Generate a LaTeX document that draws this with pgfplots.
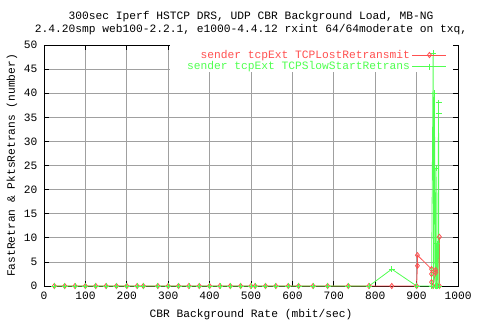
\documentclass[border=0pt]{standalone}
\usepackage{fontspec}
\setmainfont{Liberation Mono}
\usepackage{pgfplots}
\pgfplotsset{compat=1.18}
\definecolor{gred}{RGB}{255,80,80}
\definecolor{ggreen}{RGB}{80,255,80}
\definecolor{ggrid}{RGB}{160,160,160}
\newcommand{\gfont}{\fontsize{11.3}{13}\selectfont}
\begin{document}
\begin{tikzpicture}[x=1bp,y=1bp]
\path[use as bounding box] (-44,-34) rectangle (436,286);
\begin{axis}[
  at={(0,0)}, anchor=south west,
  scale only axis, width=414bp, height=241bp,
  xmin=0, xmax=1000, ymin=0, ymax=50,
  xtick={0,100,...,1000}, ytick={0,5,...,50},
  /pgf/number format/1000 sep={},
  /pgf/number format/assume math mode=true,
  grid=major,
  major grid style={ggrid, line width=0.8pt},
  axis line style={black, line width=0.8pt},
  tick style={black, line width=0.8pt},
  tick align=inside, major tick length=5bp,
  ticklabel style={font=\gfont},
  xticklabel style={yshift=-2bp},
  yticklabel style={xshift=-3bp},
  xlabel={CBR Background Rate (mbit/sec)},
  ylabel={FastRetran \& PktsRetrans (number)},
  label style={font=\gfont},
  xlabel style={yshift=-3bp},
  ylabel style={yshift=0bp},
  title style={font=\gfont, align=center, at={(0.5,1)}, anchor=south, yshift=4bp, inner sep=0pt},
  title={300sec Iperf HSTCP DRS, UDP CBR Background Load, MB-NG\\2.4.20smp web100-2.2.1, e1000-4.4.12 rxint 64/64moderate on txq,},
  legend style={at={(1,1)}, anchor=north east, draw=none, fill=none, font=\gfont,
    row sep=-2bp, inner xsep=2bp, inner ysep=2bp, xshift=-9bp, yshift=-1bp},
  legend cell align=right,
  legend plot pos=right,
  legend image code/.code={\draw[mark repeat=2,mark phase=2,#1] plot coordinates {(0bp,0bp)(17bp,0bp)(34bp,0bp)};},
]
\fill[white] (axis cs:304,49.9) rectangle (axis cs:988,44.3);
\addplot[gred, line width=0.8pt, mark=diamond, mark size=2.6bp, mark options={solid}] coordinates {
(25,0)(50,0)(75,0)(100,0)(125,0)(150,0)(175,0)(200,0)(225,0)(240,0)(275,0)(300,0)(325,0)(350,0)(375,0)(400,0)(425,0)(450,0)(475,0)(500,0)(510,0)(535,0)(560,0)(590,0)(615,0)(650,0)(685,0)(735,0)(785,0)(840,0)(900,0)(902,4.2)(902,6.4)(936,3.5)(936,2.5)(936,0.8)(940,0)(946,3.3)(946,2.8)(948,0)(955,10.2)(955,0)
};
\addlegendentry{\textcolor{gred}{sender tcpExt TCPLostRetransmit}}
\addplot[ggreen, line width=0.8pt, mark=+, mark size=3bp] coordinates {
(25,0)(50,0)(75,0)(100,0)(125,0)(150,0)(175,0)(200,0)(225,0)(240,0)(275,0)(300,0)(325,0)(350,0)(375,0)(400,0)(425,0)(450,0)(475,0)(500,0)(510,0)(535,0)(560,0)(590,0)(615,0)(650,0)(685,0)(735,0)(785,0)(840,3.5)(900,0)(936,0)(940,48.3)(941,0)(943,40)(945,0)(947,24.5)(948,0)(950,8.8)(951,0)(953,38)(953,35.8)(954,0)
};
\addlegendentry{\textcolor{ggreen}{sender tcpExt TCPSlowStartRetrans}}
\end{axis}
\end{tikzpicture}
\end{document}
